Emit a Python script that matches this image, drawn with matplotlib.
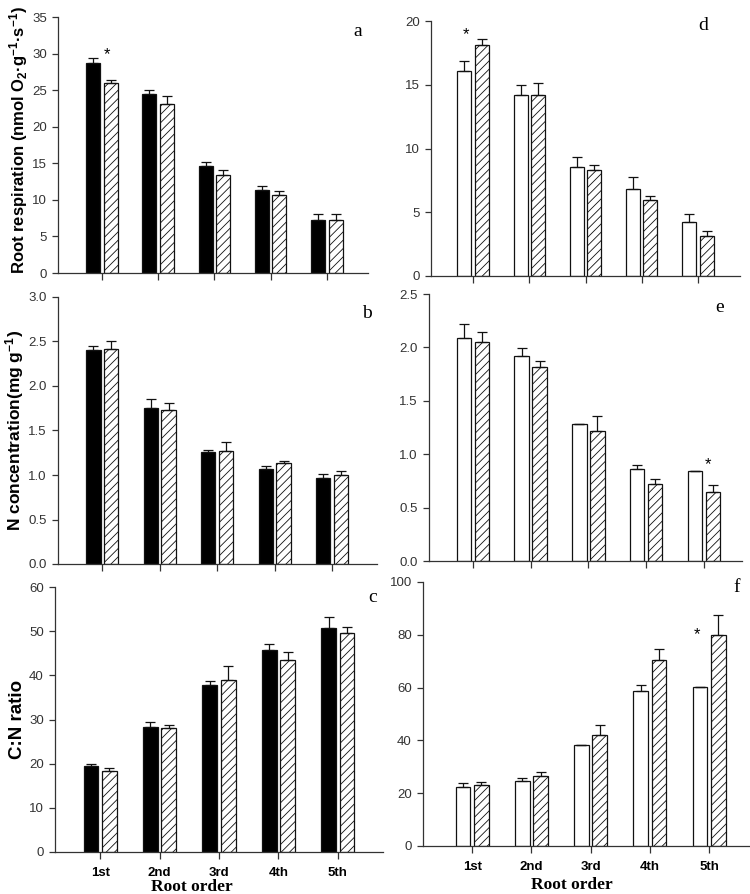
import numpy as np
import matplotlib
matplotlib.use("Agg")
from matplotlib import pyplot as plt

plt.rcParams["font.family"] = ["Liberation Sans", "DejaVu Sans"]
plt.rcParams["mathtext.fontset"] = "custom"
plt.rcParams["mathtext.rm"] = "Liberation Sans:bold"
plt.rcParams["mathtext.it"] = "Liberation Sans:bold"
plt.rcParams["mathtext.bf"] = "Liberation Sans:bold"
plt.rcParams["mathtext.default"] = "rm"
plt.rcParams["hatch.linewidth"] = 0.6
plt.rcParams["hatch.color"] = "#444444"

orders = ["1st", "2nd", "3rd", "4th", "5th"]

# a: root respiration, solid vs hatched
resp_solid = [28.7, 24.5, 14.6, 11.3, 7.3]
resp_solid_se = [0.7, 0.5, 0.6, 0.6, 0.8]
resp_hatch = [26.0, 23.15, 13.35, 10.6, 7.2]
resp_hatch_se = [0.4, 1.05, 0.75, 0.65, 0.8]

# d: root respiration, open vs hatched
resp_open = [16.06, 14.18, 8.56, 6.8, 4.26]
resp_open_se = [0.78, 0.82, 0.74, 1.0, 0.57]
resp_hatch2 = [18.15, 14.18, 8.3, 5.95, 3.16]
resp_hatch2_se = [0.45, 0.92, 0.4, 0.35, 0.39]

# b: N concentration, solid vs hatched
n_solid = [2.40, 1.75, 1.254, 1.063, 0.961]
n_solid_se = [0.05, 0.10, 0.026, 0.041, 0.053]
n_hatch = [2.42, 1.735, 1.273, 1.13, 0.999]
n_hatch_se = [0.08, 0.075, 0.10, 0.03, 0.049]

# e: N concentration, open vs hatched
n_open = [2.09, 1.923, 1.283, 0.86, 0.844]
n_open_se = [0.13, 0.067, 0.004, 0.037, 0.003]
n_hatch2 = [2.047, 1.816, 1.22, 0.718, 0.646]
n_hatch2_se = [0.10, 0.054, 0.14, 0.047, 0.066]

# c: C:N ratio, solid vs hatched
cn_solid = [19.4, 28.4, 37.9, 45.7, 50.7]
cn_solid_se = [0.5, 1.1, 0.8, 1.5, 2.5]
cn_hatch = [18.3, 28.0, 38.9, 43.5, 49.5]
cn_hatch_se = [0.8, 0.7, 3.3, 1.7, 1.4]

# f: C:N ratio, open vs hatched
cn_open = [22.5, 24.8, 38.1, 58.9, 60.1]
cn_open_se = [1.4, 0.9, 0.3, 2.2, 0.3]
cn_hatch2 = [23.1, 26.5, 41.9, 70.4, 80.0]
cn_hatch2_se = [1.1, 1.4, 4.0, 4.4, 7.4]

W, H = 750, 894
fig = plt.figure(figsize=(W / 100, H / 100), dpi=100)


def add_panel(left, right, top, bottom):
    return fig.add_axes([left / W, 1 - bottom / H, (right - left) / W, (bottom - top) / H])


def draw(ax, first, first_se, second, second_se, filled, ymax, ystep, xlim, fmt, show_labels):
    x = np.arange(len(orders))
    off = 0.155
    bw = 0.25
    ax.bar(x - off, first, bw, color="black" if filled else "white",
           edgecolor="#111111", linewidth=0.9, zorder=2)
    ax.bar(x + off, second, bw, color="white", edgecolor="#111111",
           linewidth=0.9, hatch="////", zorder=2)
    ax.errorbar(x - off, first, yerr=[np.zeros(len(x)), first_se], fmt="none",
                ecolor="#111111", elinewidth=0.9, capsize=3.5, capthick=0.9, zorder=3)
    ax.errorbar(x + off, second, yerr=[np.zeros(len(x)), second_se], fmt="none",
                ecolor="#111111", elinewidth=0.9, capsize=3.5, capthick=0.9, zorder=3)
    ax.set_xlim(*xlim)
    ax.set_ylim(0, ymax)
    ax.set_yticks(np.arange(0, ymax + ystep / 2, ystep))
    ax.yaxis.set_major_formatter(plt.FormatStrFormatter(fmt))
    ax.set_xticks(x)
    if show_labels:
        ax.set_xticklabels(orders, fontweight="bold", fontsize=9.5)
    else:
        ax.set_xticklabels([])
    ax.spines["top"].set_visible(False)
    ax.spines["right"].set_visible(False)
    for s in ("left", "bottom"):
        ax.spines[s].set_color("#333333")
        ax.spines[s].set_linewidth(0.9)
    ax.tick_params(axis="y", direction="out", length=4, width=0.9, labelsize=9.5,
                   colors="#333333", pad=4)
    ax.tick_params(axis="x", direction="out", length=5, width=0.9, colors="#333333",
                   labelcolor="black", pad=6)


ax_a = add_panel(58, 368, 17, 273)
draw(ax_a, resp_solid, resp_solid_se, resp_hatch, resp_hatch_se, True, 35, 5,
     (-0.78, 4.73), "%d", False)
ax_d = add_panel(431, 740, 21, 276)
draw(ax_d, resp_open, resp_open_se, resp_hatch2, resp_hatch2_se, False, 20, 5,
     (-0.75, 4.75), "%d", False)
ax_b = add_panel(58, 377, 297, 564)
draw(ax_b, n_solid, n_solid_se, n_hatch, n_hatch_se, True, 3.0, 0.5,
     (-0.77, 4.78), "%.1f", False)
ax_e = add_panel(429, 742, 294, 561)
draw(ax_e, n_open, n_open_se, n_hatch2, n_hatch2_se, False, 2.5, 0.5,
     (-0.76, 4.66), "%.1f", False)
ax_c = add_panel(55, 383, 587, 852)
draw(ax_c, cn_solid, cn_solid_se, cn_hatch, cn_hatch_se, True, 60, 10,
     (-0.76, 4.76), "%d", True)
ax_f = add_panel(423, 750, 582, 846)
draw(ax_f, cn_open, cn_open_se, cn_hatch2, cn_hatch2_se, False, 100, 20,
     (-0.83, 4.69), "%d", True)

# y labels
ylabels = [
    ("Root respiration (nmol O$_2$·g$^{-1}$·s$^{-1}$)", 12, 19, 140),
    ("N concentration(mg g$^{-1}$)", 12.5, 15, 430),
    ("C:N ratio", 13.5, 17, 719),
]
for txt, fs, px, py in ylabels:
    fig.text(px / W, 1 - py / H, txt, fontsize=fs, fontweight="bold",
             rotation=90, ha="center", va="center")

# panel letters
for letter, (px, py) in zip("adbecf", [(358, 32), (703, 26), (367, 313),
                                        (720, 307), (373, 597), (737, 588)]):
    fig.text(px / W, 1 - py / H, letter, family="Liberation Serif", fontsize=14,
             ha="center", va="center")

# x titles
for px, py in [(192, 887), (572, 885)]:
    fig.text(px / W, 1 - py / H, "Root order", family="Liberation Serif",
             fontsize=12.5, fontweight="bold", ha="center", va="center")

# significance marks
ax_a.text(0.09, 29.8, "*", ha="center", va="center", fontsize=12)
ax_d.text(-0.12, 18.9, "*", ha="center", va="center", fontsize=12)
ax_e.text(4.07, 0.9, "*", ha="center", va="center", fontsize=12)
ax_f.text(3.8, 80, "*", ha="center", va="center", fontsize=12)

fig.savefig("out.png", dpi=100)
